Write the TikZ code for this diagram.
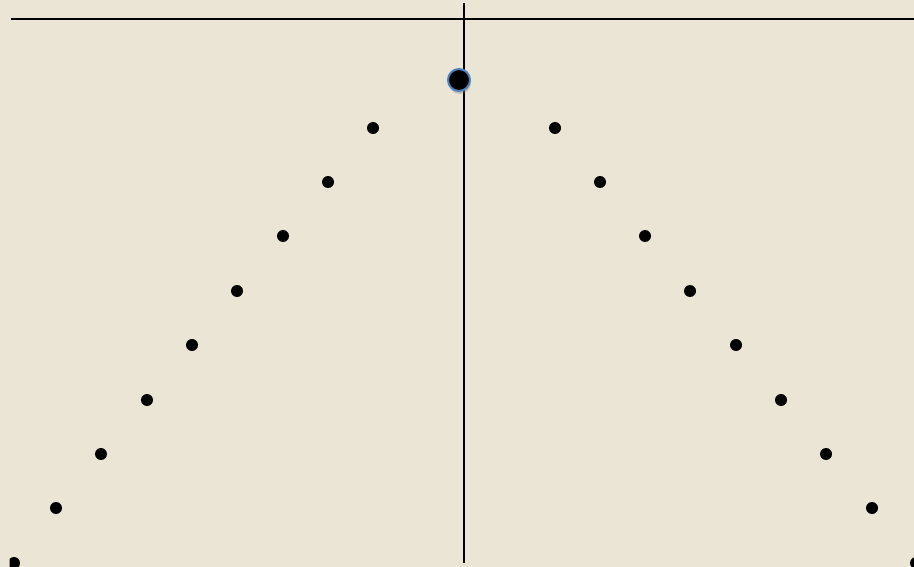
\documentclass[tikz,border=0pt]{standalone}
\usetikzlibrary{shadows}
\definecolor{canvas}{HTML}{EBE5D6}
\definecolor{rimblue}{HTML}{4F81BD}
\tikzset{
  pt/.style={circle,fill=black,inner sep=0pt,minimum size=12pt},
  bigpt/.style={circle,fill=black,draw=rimblue,line width=2pt,inner sep=0pt,minimum size=22pt,
    drop shadow={shadow xshift=1pt,shadow yshift=-3pt,opacity=0.35}},
  axis/.style={line width=1.2pt,black}
}
\begin{document}
\begin{tikzpicture}[x=1pt,y=-1pt]
\useasboundingbox (0,0) rectangle (914,567);
\fill[canvas] (0,0) rectangle (914,567);
\clip (0,0) rectangle (914,567);
\coordinate (hl) at (11,19);
\coordinate (hr) at (914,19);
\coordinate (vt) at (464,3);
\coordinate (vb) at (464,563);
\draw[axis] (hl) -- (hr);
\draw[axis] (vt) -- (vb);
\node[bigpt] (top) at (459,80) {};
\foreach \i/\x/\y in {1/56/508,2/101/454,3/147/400,4/192/345,5/237/291,6/283/236,7/328/182,8/373/128}
  \node[pt] (l\i) at (\x,\y) {};
\foreach \i/\x/\y in {1/872/508,2/826/454,3/781/400,4/736/345,5/690/291,6/645/236,7/600/182,8/555/128}
  \node[pt] (r\i) at (\x,\y) {};
\begin{scope}
\clip (9.5,0) rectangle (914,567);
\node[pt] (lc) at (14,563) {};
\end{scope}
\node[pt] (rc) at (916,563) {};
\end{tikzpicture}
\end{document}
